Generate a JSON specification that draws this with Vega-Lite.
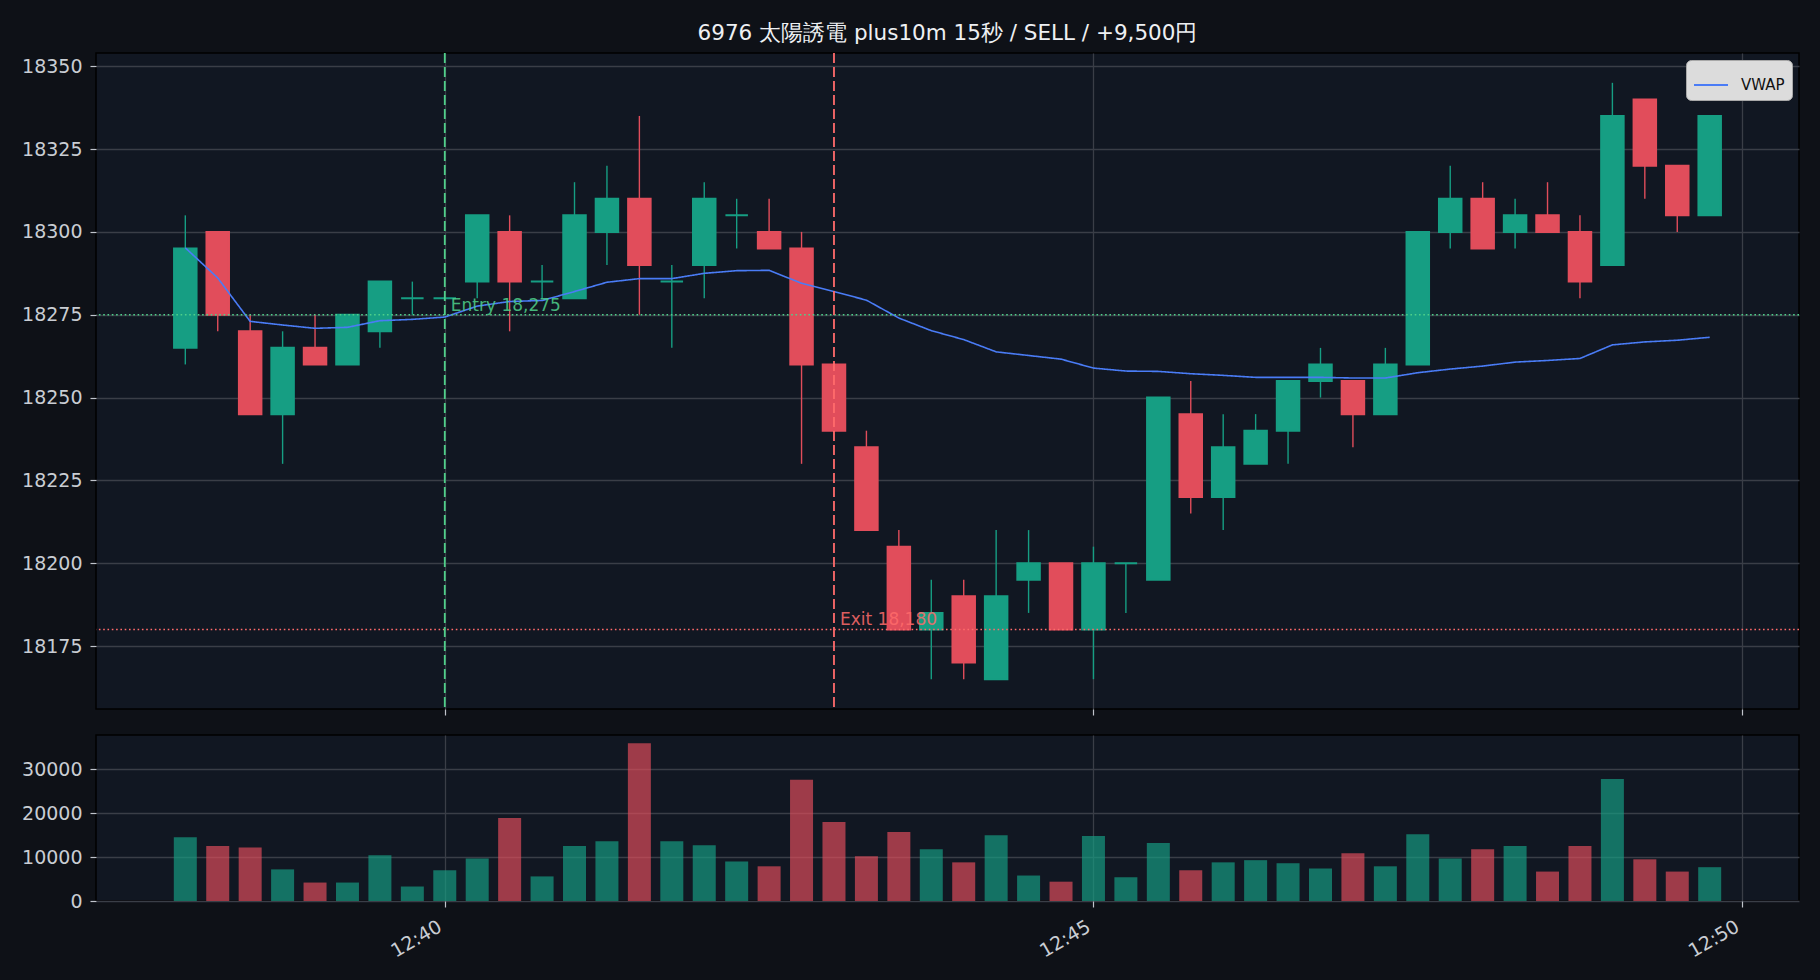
{
  "$schema": "https://vega.github.io/schema/vega-lite/v6.json",
  "background": "#0e1117",
  "autosize": {"type": "pad"},
  "padding": {"left": 20, "top": 23, "right": 20, "bottom": 20},
  "title": {
    "text": "6976 太陽誘電 plus10m 15秒 / SELL / +9,500円",
    "font": "DejaVu Sans",
    "fontSize": 21.5,
    "fontWeight": "normal",
    "color": "#eef0f3",
    "anchor": "middle",
    "frame": "group",
    "offset": 6.5
  },
  "datasets": {
    "candles": [
      {"t": "2024-06-03T12:38:00", "o": 18265, "h": 18305, "l": 18260, "c": 18295, "v": 14500, "vwap": 18295.2, "dir": "up"},
      {"t": "2024-06-03T12:38:15", "o": 18300, "h": 18300, "l": 18270, "c": 18275, "v": 12500, "vwap": 18286.1, "dir": "down"},
      {"t": "2024-06-03T12:38:30", "o": 18270, "h": 18275, "l": 18245, "c": 18245, "v": 12200, "vwap": 18273.0, "dir": "down"},
      {"t": "2024-06-03T12:38:45", "o": 18245, "h": 18270, "l": 18230, "c": 18265, "v": 7200, "vwap": 18271.9, "dir": "up"},
      {"t": "2024-06-03T12:39:00", "o": 18265, "h": 18275, "l": 18260, "c": 18260, "v": 4200, "vwap": 18270.9, "dir": "down"},
      {"t": "2024-06-03T12:39:15", "o": 18260, "h": 18275, "l": 18260, "c": 18275, "v": 4200, "vwap": 18271.2, "dir": "up"},
      {"t": "2024-06-03T12:39:30", "o": 18270, "h": 18285, "l": 18265, "c": 18285, "v": 10400, "vwap": 18273.2, "dir": "up"},
      {"t": "2024-06-03T12:39:45", "o": 18280, "h": 18285, "l": 18275, "c": 18280, "v": 3300, "vwap": 18273.6, "dir": "up"},
      {"t": "2024-06-03T12:40:00", "o": 18280, "h": 18280, "l": 18280, "c": 18280, "v": 7000, "vwap": 18274.3, "dir": "up"},
      {"t": "2024-06-03T12:40:15", "o": 18285, "h": 18305, "l": 18280, "c": 18305, "v": 9700, "vwap": 18277.6, "dir": "up"},
      {"t": "2024-06-03T12:40:30", "o": 18300, "h": 18305, "l": 18270, "c": 18285, "v": 18900, "vwap": 18279.0, "dir": "down"},
      {"t": "2024-06-03T12:40:45", "o": 18285, "h": 18290, "l": 18280, "c": 18285, "v": 5600, "vwap": 18279.3, "dir": "up"},
      {"t": "2024-06-03T12:41:00", "o": 18280, "h": 18315, "l": 18280, "c": 18305, "v": 12500, "vwap": 18282.0, "dir": "up"},
      {"t": "2024-06-03T12:41:15", "o": 18300, "h": 18320, "l": 18290, "c": 18310, "v": 13600, "vwap": 18284.8, "dir": "up"},
      {"t": "2024-06-03T12:41:30", "o": 18310, "h": 18335, "l": 18275, "c": 18290, "v": 35900, "vwap": 18285.9, "dir": "down"},
      {"t": "2024-06-03T12:41:45", "o": 18285, "h": 18290, "l": 18265, "c": 18285, "v": 13600, "vwap": 18285.9, "dir": "up"},
      {"t": "2024-06-03T12:42:00", "o": 18290, "h": 18315, "l": 18280, "c": 18310, "v": 12700, "vwap": 18287.5, "dir": "up"},
      {"t": "2024-06-03T12:42:15", "o": 18305, "h": 18310, "l": 18295, "c": 18305, "v": 9000, "vwap": 18288.3, "dir": "up"},
      {"t": "2024-06-03T12:42:30", "o": 18300, "h": 18310, "l": 18295, "c": 18295, "v": 7900, "vwap": 18288.4, "dir": "down"},
      {"t": "2024-06-03T12:42:45", "o": 18295, "h": 18300, "l": 18230, "c": 18260, "v": 27600, "vwap": 18284.5, "dir": "down"},
      {"t": "2024-06-03T12:43:00", "o": 18260, "h": 18260, "l": 18240, "c": 18240, "v": 18000, "vwap": 18282.0, "dir": "down"},
      {"t": "2024-06-03T12:43:15", "o": 18235, "h": 18240, "l": 18210, "c": 18210, "v": 10200, "vwap": 18279.4, "dir": "down"},
      {"t": "2024-06-03T12:43:30", "o": 18205, "h": 18210, "l": 18180, "c": 18180, "v": 15700, "vwap": 18274.0, "dir": "down"},
      {"t": "2024-06-03T12:43:45", "o": 18180, "h": 18195, "l": 18165, "c": 18185, "v": 11800, "vwap": 18270.2, "dir": "up"},
      {"t": "2024-06-03T12:44:00", "o": 18190, "h": 18195, "l": 18165, "c": 18170, "v": 8800, "vwap": 18267.5, "dir": "down"},
      {"t": "2024-06-03T12:44:15", "o": 18165, "h": 18210, "l": 18165, "c": 18190, "v": 15000, "vwap": 18263.8, "dir": "up"},
      {"t": "2024-06-03T12:44:30", "o": 18195, "h": 18210, "l": 18185, "c": 18200, "v": 5800, "vwap": 18262.7, "dir": "up"},
      {"t": "2024-06-03T12:44:45", "o": 18200, "h": 18200, "l": 18180, "c": 18180, "v": 4400, "vwap": 18261.6, "dir": "down"},
      {"t": "2024-06-03T12:45:00", "o": 18180, "h": 18205, "l": 18165, "c": 18200, "v": 14800, "vwap": 18258.9, "dir": "up"},
      {"t": "2024-06-03T12:45:15", "o": 18200, "h": 18200, "l": 18185, "c": 18200, "v": 5400, "vwap": 18258.0, "dir": "up"},
      {"t": "2024-06-03T12:45:30", "o": 18195, "h": 18250, "l": 18195, "c": 18250, "v": 13200, "vwap": 18257.9, "dir": "up"},
      {"t": "2024-06-03T12:45:45", "o": 18245, "h": 18255, "l": 18215, "c": 18220, "v": 7000, "vwap": 18257.2, "dir": "down"},
      {"t": "2024-06-03T12:46:00", "o": 18220, "h": 18245, "l": 18210, "c": 18235, "v": 8800, "vwap": 18256.7, "dir": "up"},
      {"t": "2024-06-03T12:46:15", "o": 18230, "h": 18245, "l": 18230, "c": 18240, "v": 9300, "vwap": 18256.1, "dir": "up"},
      {"t": "2024-06-03T12:46:30", "o": 18240, "h": 18255, "l": 18230, "c": 18255, "v": 8600, "vwap": 18256.1, "dir": "up"},
      {"t": "2024-06-03T12:46:45", "o": 18255, "h": 18265, "l": 18250, "c": 18260, "v": 7400, "vwap": 18256.1, "dir": "up"},
      {"t": "2024-06-03T12:47:00", "o": 18255, "h": 18255, "l": 18235, "c": 18245, "v": 10900, "vwap": 18255.9, "dir": "down"},
      {"t": "2024-06-03T12:47:15", "o": 18245, "h": 18265, "l": 18245, "c": 18260, "v": 7900, "vwap": 18255.9, "dir": "up"},
      {"t": "2024-06-03T12:47:30", "o": 18260, "h": 18300, "l": 18260, "c": 18300, "v": 15200, "vwap": 18257.5, "dir": "up"},
      {"t": "2024-06-03T12:47:45", "o": 18300, "h": 18320, "l": 18295, "c": 18310, "v": 9700, "vwap": 18258.6, "dir": "up"},
      {"t": "2024-06-03T12:48:00", "o": 18310, "h": 18315, "l": 18295, "c": 18295, "v": 11800, "vwap": 18259.5, "dir": "down"},
      {"t": "2024-06-03T12:48:15", "o": 18300, "h": 18310, "l": 18295, "c": 18305, "v": 12500, "vwap": 18260.7, "dir": "up"},
      {"t": "2024-06-03T12:48:30", "o": 18305, "h": 18315, "l": 18300, "c": 18300, "v": 6700, "vwap": 18261.2, "dir": "down"},
      {"t": "2024-06-03T12:48:45", "o": 18300, "h": 18305, "l": 18280, "c": 18285, "v": 12500, "vwap": 18261.8, "dir": "down"},
      {"t": "2024-06-03T12:49:00", "o": 18290, "h": 18345, "l": 18290, "c": 18335, "v": 27800, "vwap": 18265.9, "dir": "up"},
      {"t": "2024-06-03T12:49:15", "o": 18340, "h": 18340, "l": 18310, "c": 18320, "v": 9500, "vwap": 18266.8, "dir": "down"},
      {"t": "2024-06-03T12:49:30", "o": 18320, "h": 18320, "l": 18300, "c": 18305, "v": 6700, "vwap": 18267.3, "dir": "down"},
      {"t": "2024-06-03T12:49:45", "o": 18305, "h": 18335, "l": 18305, "c": 18335, "v": 7700, "vwap": 18268.2, "dir": "up"}
    ],
    "levels": [
      {"kind": "Entry", "t": "2024-06-03T12:40:00", "price": 18275, "label": "Entry 18,275"},
      {"kind": "Exit", "t": "2024-06-03T12:43:00", "price": 18180, "label": "Exit 18,180"}
    ]
  },
  "vconcat": [
    {
      "width": 1703,
      "height": 656,
      "layer": [
        {
          "data": {"name": "candles"},
          "mark": {"type": "rule", "strokeWidth": 1.4},
          "encoding": {
            "x": {
              "field": "t",
              "type": "temporal",
              "scale": {
                "domain": [
                  {"year": 2024, "month": 6, "date": 3, "hours": 12, "minutes": 37, "seconds": 18, "milliseconds": 700},
                  {"year": 2024, "month": 6, "date": 3, "hours": 12, "minutes": 50, "seconds": 26, "milliseconds": 300}
                ],
                "nice": false,
                "padding": 0
              },
              "axis": {
                "values": [
                  {"year": 2024, "month": 6, "date": 3, "hours": 12, "minutes": 40},
                  {"year": 2024, "month": 6, "date": 3, "hours": 12, "minutes": 45},
                  {"year": 2024, "month": 6, "date": 3, "hours": 12, "minutes": 50}
                ],
                "labels": false,
                "grid": true,
                "ticks": true
              }
            },
            "y": {
              "field": "l",
              "type": "quantitative",
              "scale": {"domain": [18156, 18354], "nice": false, "zero": false, "padding": 0},
              "axis": {"values": [18175, 18200, 18225, 18250, 18275, 18300, 18325, 18350], "format": "d", "grid": true}
            },
            "y2": {"field": "h"},
            "color": {
              "field": "dir",
              "type": "nominal",
              "scale": {"domain": ["up", "down"], "range": ["#169e83", "#e14d5b"]},
              "legend": null
            }
          }
        },
        {
          "data": {"name": "candles"},
          "mark": {"type": "bar", "size": 22.5, "strokeWidth": 2},
          "encoding": {
            "x": {"field": "t", "type": "temporal"},
            "y": {"field": "o", "type": "quantitative"},
            "y2": {"field": "c"},
            "color": {"field": "dir", "type": "nominal", "legend": null},
            "stroke": {"field": "dir", "type": "nominal", "scale": {"domain": ["up", "down"], "range": ["#169e83", "#e14d5b"]}, "legend": null}
          }
        },
        {
          "data": {"name": "candles"},
          "mark": {"type": "line", "strokeWidth": 1.6},
          "encoding": {
            "x": {"field": "t", "type": "temporal"},
            "y": {"field": "vwap", "type": "quantitative"},
            "strokeDash": {
              "datum": "VWAP",
              "type": "nominal",
              "scale": {"range": [[1, 0]]},
              "legend": {"symbolStrokeColor": "#4a7cf6"}
            },
            "color": {"value": "#4a7cf6"}
          }
        },
        {
          "data": {"name": "levels"},
          "transform": [{"filter": "datum.kind === 'Entry'"}],
          "mark": {"type": "rule", "color": "#4fd08a", "strokeWidth": 1.7, "strokeDash": [1.6, 2.7]},
          "encoding": {"y": {"field": "price", "type": "quantitative"}}
        },
        {
          "data": {"name": "levels"},
          "transform": [{"filter": "datum.kind === 'Exit'"}],
          "mark": {"type": "rule", "color": "#ff6b6b", "strokeWidth": 1.7, "strokeDash": [1.6, 2.7]},
          "encoding": {"y": {"field": "price", "type": "quantitative"}}
        },
        {
          "data": {"name": "levels"},
          "transform": [{"filter": "datum.kind === 'Entry'"}],
          "mark": {"type": "rule", "color": "#4fd08a", "strokeWidth": 1.8, "strokeDash": [10, 4]},
          "encoding": {"x": {"field": "t", "type": "temporal"}}
        },
        {
          "data": {"name": "levels"},
          "transform": [{"filter": "datum.kind === 'Exit'"}],
          "mark": {"type": "rule", "color": "#ff6b6b", "strokeWidth": 1.8, "strokeDash": [10, 4]},
          "encoding": {"x": {"field": "t", "type": "temporal"}}
        },
        {
          "data": {"name": "levels"},
          "transform": [{"filter": "datum.kind === 'Entry'"}],
          "mark": {"type": "text", "align": "left", "baseline": "alphabetic", "dx": 6, "dy": -4, "fontSize": 17, "font": "DejaVu Sans", "color": "#4fd08a", "opacity": 0.85},
          "encoding": {
            "x": {"field": "t", "type": "temporal"},
            "y": {"field": "price", "type": "quantitative"},
            "text": {"field": "label"}
          }
        },
        {
          "data": {"name": "levels"},
          "transform": [{"filter": "datum.kind === 'Exit'"}],
          "mark": {"type": "text", "align": "left", "baseline": "alphabetic", "dx": 6, "dy": -4, "fontSize": 17, "font": "DejaVu Sans", "color": "#ff6b6b", "opacity": 0.85},
          "encoding": {
            "x": {"field": "t", "type": "temporal"},
            "y": {"field": "price", "type": "quantitative"},
            "text": {"field": "label"}
          }
        }
      ]
    },
    {
      "width": 1703,
      "height": 166,
      "data": {"name": "candles"},
      "mark": {"type": "bar", "size": 23, "opacity": 0.68},
      "encoding": {
        "x": {
          "field": "t",
          "type": "temporal",
          "scale": {
            "domain": [
              {"year": 2024, "month": 6, "date": 3, "hours": 12, "minutes": 37, "seconds": 18, "milliseconds": 700},
              {"year": 2024, "month": 6, "date": 3, "hours": 12, "minutes": 50, "seconds": 26, "milliseconds": 300}
            ],
            "nice": false,
            "padding": 0
          },
          "axis": {
            "values": [
              {"year": 2024, "month": 6, "date": 3, "hours": 12, "minutes": 40},
              {"year": 2024, "month": 6, "date": 3, "hours": 12, "minutes": 45},
              {"year": 2024, "month": 6, "date": 3, "hours": 12, "minutes": 50}
            ],
            "format": "%H:%M",
            "grid": true,
            "labelAngle": -30,
            "labelAlign": "right",
            "labelBaseline": "alphabetic",
            "labelPadding": 23,
            "labelOffset": -2
          }
        },
        "y": {
          "field": "v",
          "type": "quantitative",
          "scale": {"domain": [0, 37800], "nice": false, "padding": 0},
          "axis": {"values": [0, 10000, 20000, 30000], "format": "d", "grid": true}
        },
        "color": {
          "field": "dir",
          "type": "nominal",
          "scale": {"domain": ["up", "down"], "range": ["#169e83", "#e14d5b"]},
          "legend": null
        }
      }
    }
  ],
  "spacing": 26,
  "bounds": "flush",
  "resolve": {"scale": {"x": "independent", "y": "independent"}},
  "config": {
    "font": "DejaVu Sans",
    "view": {"fill": "#111722", "stroke": "#000000", "strokeWidth": 1.5},
    "axis": {
      "domain": false,
      "title": null,
      "gridColor": "#3a3e47",
      "gridWidth": 1.3,
      "tickColor": "#c0c4cc",
      "tickSize": 6,
      "tickWidth": 1.2,
      "labelColor": "#c9cdd3",
      "labelFontSize": 19,
      "labelFont": "DejaVu Sans",
      "labelPadding": 8
    },
    "legend": {
      "orient": "top-right",
      "offset": 7,
      "title": null,
      "fillColor": "#dcdcdc",
      "strokeColor": "#a8a8a8",
      "cornerRadius": 5,
      "padding": 7,
      "symbolType": "stroke",
      "symbolSize": 1156,
      "symbolStrokeWidth": 2,
      "labelFontSize": 15,
      "labelFont": "DejaVu Sans",
      "labelColor": "#111111",
      "labelOffset": 12
    }
  }
}
